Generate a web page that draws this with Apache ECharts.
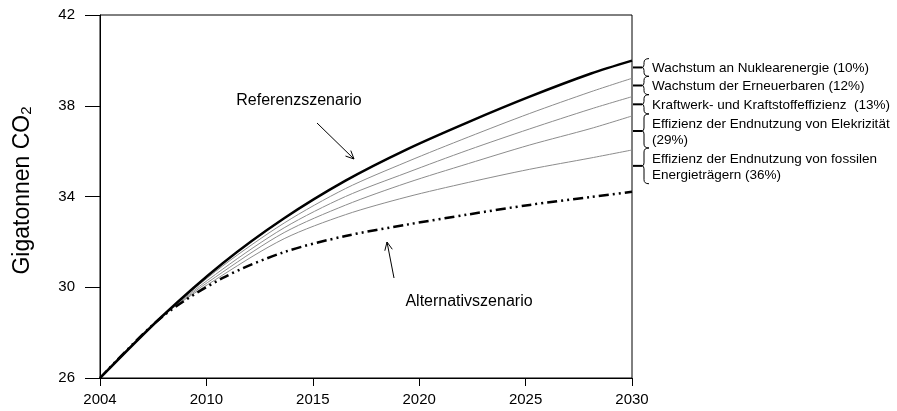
<!DOCTYPE html>
<html>
<head>
<meta charset="utf-8">
<script src="https://cdn.jsdelivr.net/npm/echarts@6/dist/echarts.min.js"></script>
<style>
  html, body { margin: 0; padding: 0; background: #fff; }
  #main { width: 897px; height: 411px; }
</style>
</head>
<body>
<div id="main"></div>
<script>
// x positions of the curve samples (years)
const years = [2004, 2007, 2010, 2013, 2016, 2019, 2022, 2025, 2028, 2030];
const referenz      = [26, 28.69, 31.06, 33.04, 34.70, 36.08, 37.28, 38.40, 39.42, 39.99];
const nuklear       = [26, 28.69, 30.94, 32.83, 34.35, 35.53, 36.62, 37.66, 38.62, 39.21];
const erneuerbare   = [26, 28.69, 30.80, 32.62, 34.00, 35.05, 36.05, 36.98, 37.86, 38.40];
const kraftwerk     = [26, 28.69, 30.67, 32.41, 33.62, 34.60, 35.45, 36.27, 37.00, 37.55];
const elektrizitaet = [26, 28.69, 30.54, 32.14, 33.20, 33.98, 34.62, 35.20, 35.70, 36.05];
const alternativ    = [26, 28.67, 30.41, 31.55, 32.26, 32.76, 33.21, 33.63, 33.98, 34.21];

const xTickLabels = ['2004', '2010', '2015', '2020', '2025', '2030'];
const yMin = 26, yMax = 42, yStep = 4;

const bracketLabels = [
  'Wachstum an Nuklearenergie (10%)',
  'Wachstum der Erneuerbaren (12%)',
  'Kraftwerk- und Kraftstoffeffizienz  (13%)',
  'Effizienz der Endnutzung von Elekrizität\n(29%)',
  'Effizienz der Endnutzung von fossilen\nEnergieträgern (36%)'
];

const FONT = '"Liberation Sans", Arial, sans-serif';

function pairs(vals) {
  return vals.map(function (v, i) { return [years[i], v]; });
}

let chart = echarts.init(document.getElementById('main'), null, { renderer: 'canvas' });

let grayLine = { color: '#8c8c8c', width: 1 };

let option = {
  animation: false,
  backgroundColor: '#fff',
  textStyle: { fontFamily: FONT },
  grid: {
    left: 100, right: 265, top: 15, bottom: 33,
    show: true, borderColor: '#000', borderWidth: 1
  },
  xAxis: [{
    type: 'category',
    data: xTickLabels,
    boundaryGap: false,
    axisLine: { lineStyle: { color: '#000', width: 1 } },
    axisTick: { show: true, length: 8, lineStyle: { color: '#000' } },
    axisLabel: { color: '#000', fontSize: 15, margin: 14, fontFamily: FONT },
    splitLine: { show: false }
  }, {
    type: 'value',
    min: 2004, max: 2030,
    show: false
  }],
  yAxis: {
    type: 'value',
    min: yMin, max: yMax, interval: yStep,
    name: '{a|Gigatonnen CO}{b|2}',
    nameLocation: 'middle',
    nameRotate: 90,
    nameGap: 66,
    nameTextStyle: {
      padding: [0, 0, 0, 12],
      rich: {
        a: { fontSize: 23, color: '#000', fontFamily: FONT },
        b: { fontSize: 15, color: '#000', fontFamily: FONT, verticalAlign: 'bottom', lineHeight: 20 }
      }
    },
    axisLine: { show: true, lineStyle: { color: '#000', width: 1 } },
    axisTick: { show: true, length: 15, lineStyle: { color: '#000' } },
    axisLabel: { color: '#000', fontSize: 15, margin: 25, fontFamily: FONT },
    splitLine: { show: false }
  },
  series: [
    { name: 'Elektrizität', type: 'line', xAxisIndex: 1, data: pairs(elektrizitaet), smooth: 0.3, symbol: 'none', lineStyle: grayLine, z: 2 },
    { name: 'Kraftwerk', type: 'line', xAxisIndex: 1, data: pairs(kraftwerk), smooth: 0.3, symbol: 'none', lineStyle: grayLine, z: 2 },
    { name: 'Erneuerbare', type: 'line', xAxisIndex: 1, data: pairs(erneuerbare), smooth: 0.3, symbol: 'none', lineStyle: grayLine, z: 2 },
    { name: 'Nuklear', type: 'line', xAxisIndex: 1, data: pairs(nuklear), smooth: 0.3, symbol: 'none', lineStyle: grayLine, z: 2 },
    {
      name: 'Alternativszenario', type: 'line', xAxisIndex: 1, data: pairs(alternativ), smooth: 0.3, symbol: 'none',
      lineStyle: { color: '#000', width: 2.5, type: [10, 4, 2, 4, 2, 4] }, z: 3
    },
    {
      name: 'Referenzszenario', type: 'line', xAxisIndex: 1, data: pairs(referenz), smooth: 0.3, symbol: 'none',
      lineStyle: { color: '#000', width: 2.5 }, z: 4
    }
  ]
};

chart.setOption(option);

// arrow: line plus open V head at (x2, y2)
function arrow(x1, y1, x2, y2) {
  let dx = x2 - x1, dy = y2 - y1;
  let len = Math.sqrt(dx * dx + dy * dy);
  let ux = dx / len, uy = dy / len;
  let a = 25 * Math.PI / 180, h = 9;
  let hx1 = x2 - h * (ux * Math.cos(a) - uy * Math.sin(a));
  let hy1 = y2 - h * (uy * Math.cos(a) + ux * Math.sin(a));
  let hx2 = x2 - h * (ux * Math.cos(a) + uy * Math.sin(a));
  let hy2 = y2 - h * (uy * Math.cos(a) - ux * Math.sin(a));
  return [
    { type: 'line', shape: { x1: x1, y1: y1, x2: x2, y2: y2 }, style: { stroke: '#000', lineWidth: 1 } },
    { type: 'polyline', shape: { points: [[hx1, hy1], [x2, y2], [hx2, hy2]] }, style: { stroke: '#000', lineWidth: 1, fill: null } }
  ];
}

function curve(x1, y1, cx, cy, x2, y2) {
  return {
    type: 'bezierCurve',
    shape: { x1: x1, y1: y1, cpx1: cx, cpy1: cy, x2: x2, y2: y2 },
    style: { stroke: '#000', lineWidth: 1, fill: null }
  };
}

function seg(x1, y1, x2, y2, w) {
  return { type: 'line', shape: { x1: x1, y1: y1, x2: x2, y2: y2 }, style: { stroke: '#000', lineWidth: w || 1 } };
}

// braces at the right edge, spanning the gap between consecutive 2030 values
let ends = [referenz, nuklear, erneuerbare, kraftwerk, elektrizitaet, alternativ].map(function (s) {
  return chart.convertToPixel({ xAxisIndex: 1, yAxisIndex: 0 }, [2030, s[s.length - 1]])[1];
});
let edge = chart.convertToPixel({ xAxisIndex: 1, yAxisIndex: 0 }, [2030, yMin])[0];

let graphics = [];
for (let i = 0; i < bracketLabels.length; i++) {
  let top = ends[i] - 2;
  let bot = ends[i + 1] - (i === bracketLabels.length - 1 ? 8 : 2);
  let mid = (top + bot) / 2;
  let bx = edge + 12, ex = edge + 17;
  graphics.push(curve(ex, top, bx, top, bx, top + 4));
  graphics.push(seg(bx, top + 4, bx, mid - 3));
  graphics.push(curve(bx, mid - 3, bx, mid, bx - 2, mid));
  graphics.push(curve(bx - 2, mid, bx, mid, bx, mid + 3));
  graphics.push(seg(bx, mid + 3, bx, bot - 4));
  graphics.push(curve(bx, bot - 4, bx, bot, ex, bot));
  graphics.push(seg(edge + 1, mid, bx - 2, mid, 2));
  graphics.push({
    type: 'text',
    x: edge + 20, y: mid + 1,
    style: {
      text: bracketLabels[i], fill: '#000', fontSize: 13.5, fontFamily: FONT,
      lineHeight: 16, verticalAlign: 'middle', align: 'left'
    }
  });
}

graphics.push({
  type: 'text', x: 299, y: 101,
  style: { text: 'Referenzszenario', fill: '#000', fontSize: 16, fontFamily: FONT, align: 'center', verticalAlign: 'middle' }
});
graphics.push({
  type: 'text', x: 469, y: 302,
  style: { text: 'Alternativszenario', fill: '#000', fontSize: 16, fontFamily: FONT, align: 'center', verticalAlign: 'middle' }
});
graphics = graphics.concat(arrow(317, 123, 354, 159));
graphics = graphics.concat(arrow(394, 278, 387, 242));

chart.setOption({ graphic: graphics });
</script>
</body>
</html>
